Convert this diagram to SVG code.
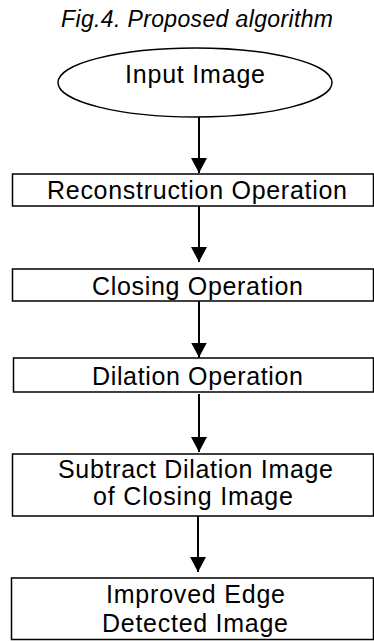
<svg xmlns="http://www.w3.org/2000/svg" width="374" height="641" viewBox="0 0 374 641">
<style>
.bg{fill:#fff}
.box{fill:#fff;stroke:#000;stroke-width:1.5}
.t{font-family:"Liberation Sans",Arial,sans-serif;font-size:25px;fill:#000;text-anchor:middle}
.title{font-family:"Liberation Sans",Arial,sans-serif;font-size:23px;font-style:italic;fill:#000;text-anchor:middle}
.conn{stroke:#000;stroke-width:2;fill:none;marker-end:url(#ah)}
</style>
<defs>
<marker id="ah" markerUnits="userSpaceOnUse" markerWidth="15" markerHeight="16" refX="15" refY="8" orient="auto" viewBox="0 0 15 16">
<path d="M0,0 L15,8 L0,16 z" fill="#000"/>
</marker>
</defs>
<rect class="bg" x="0" y="0" width="374" height="641"/>
<text class="title" x="197" y="27" textLength="272" lengthAdjust="spacing">Fig.4. Proposed algorithm</text>
<g id="connectors">
<line class="conn" x1="199" y1="117" x2="199" y2="173"/>
<line class="conn" x1="199" y1="206" x2="199" y2="262"/>
<line class="conn" x1="199" y1="301" x2="199" y2="357.5"/>
<line class="conn" x1="199" y1="394" x2="199" y2="452"/>
<line class="conn" x1="198" y1="516" x2="198" y2="572"/>
</g>
<g id="n-input">
<ellipse class="box" cx="195" cy="82.5" rx="137" ry="34.5"/>
<text class="t" x="195" y="83" font-size="23" textLength="140" lengthAdjust="spacing">Input Image</text>
</g>
<g id="n-reconstruction">
<rect class="box" x="12.5" y="174" width="361" height="32"/>
<text class="t" x="197" y="199" textLength="300" lengthAdjust="spacing">Reconstruction Operation</text>
</g>
<g id="n-closing">
<rect class="box" x="12.5" y="269" width="361" height="32"/>
<text class="t" x="197.5" y="295" textLength="211" lengthAdjust="spacing">Closing Operation</text>
</g>
<g id="n-dilation">
<rect class="box" x="13.5" y="358" width="360" height="34"/>
<text class="t" x="197.5" y="384.5" textLength="211" lengthAdjust="spacing">Dilation Operation</text>
</g>
<g id="n-subtract">
<rect class="box" x="12.5" y="454" width="361" height="62"/>
<text class="t" x="195.5" y="478" textLength="275" lengthAdjust="spacing">Subtract Dilation Image</text>
<text class="t" x="193" y="505" textLength="200" lengthAdjust="spacing">of Closing Image</text>
</g>
<g id="n-result">
<rect class="box" x="11.5" y="578" width="362" height="61.5"/>
<text class="t" x="195.5" y="603" textLength="179" lengthAdjust="spacing">Improved Edge</text>
<text class="t" x="195" y="632" textLength="186" lengthAdjust="spacing">Detected Image</text>
</g>
</svg>
